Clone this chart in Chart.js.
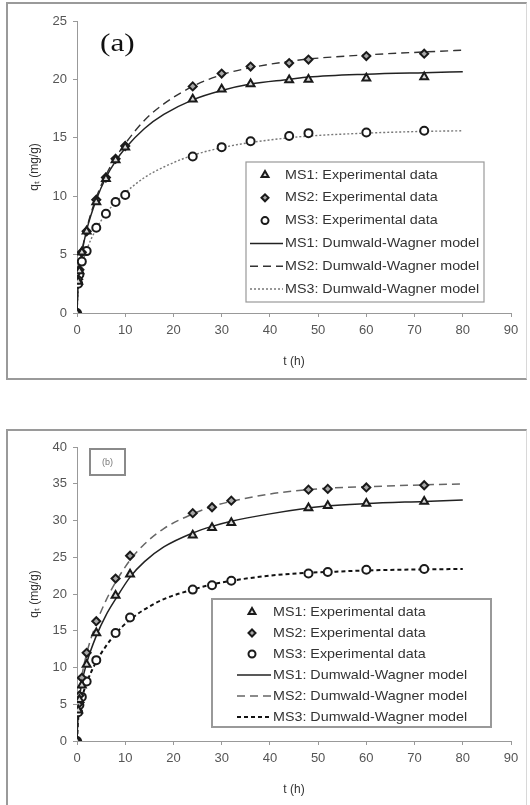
<!DOCTYPE html>
<html>
<head>
<meta charset="utf-8">
<script src="https://cdn.jsdelivr.net/npm/chart.js"></script>
<style>
  body { margin: 0; background: #fff; width: 530px; height: 805px; position: relative; overflow: hidden; font-family: Arial, "Liberation Sans", sans-serif; }
  .frame { position: absolute; box-sizing: border-box; border: 2px solid #9a9a9a; border-right: 1px solid #d8d8d8; }
  canvas { position: absolute; }
  .tagA { position: absolute; left: 100px; top: 30px; font-family: "Liberation Serif", "Times New Roman", serif; font-size: 25px; line-height: 25px; color: #111; transform: scaleX(1.25); transform-origin: left top; }
  .tagB { position: absolute; left: 89px; top: 448px; width: 37px; height: 28px; box-sizing: border-box; border: 2px solid #8a8a8a; font-size: 9px; color: #777; text-align: center; line-height: 24px; }
</style>
</head>
<body>
<div class="frame" style="left:6px; top:2px; width:521px; height:378px;"></div>
<div class="frame" style="left:6px; top:429px; width:521px; height:390px;"></div>
<canvas id="chartA" width="520" height="377" style="left:7px; top:3px;"></canvas>
<canvas id="chartB" width="520" height="375" style="left:7px; top:430px;"></canvas>
<div class="tagA">(a)</div>
<div class="tagB">(b)</div>
<script>
// ---- panel (a) ----
const timeA = [0, 0.25, 0.5, 1, 2, 4, 6, 8, 10, 24, 30, 36, 44, 48, 60, 72];
const ms1ExpA = [0, 2.7, 3.6, 5.2, 7.0, 9.5, 11.5, 13.1, 14.2, 18.3, 19.15, 19.6, 19.95, 20.0, 20.1, 20.2];
const ms2ExpA = [0, 2.9, 3.7, 5.2, 7.0, 9.7, 11.6, 13.2, 14.3, 19.4, 20.5, 21.1, 21.4, 21.7, 22.0, 22.2];
const ms3ExpA = [0, 2.5, 3.3, 4.4, 5.3, 7.3, 8.5, 9.5, 10.1, 13.4, 14.2, 14.7, 15.15, 15.4, 15.45, 15.6];

const modelTimeA = [0, 0.25, 0.5, 1, 2, 4, 6, 8, 10, 14, 18, 24, 30, 36, 44, 48, 60, 72, 80];
const ms1ModelA = [0, 2.6, 3.6, 5.1, 7.1, 9.7, 11.6, 13.0, 14.1, 15.8, 17.0, 18.25, 19.05, 19.6, 20.0, 20.2, 20.45, 20.58, 20.65];
const ms2ModelA = [0, 2.7, 3.7, 5.2, 7.2, 9.9, 11.8, 13.3, 14.5, 16.5, 17.9, 19.4, 20.4, 21.0, 21.55, 21.75, 22.1, 22.35, 22.5];
const ms3ModelA = [0, 2.1, 2.9, 4.0, 5.4, 7.2, 8.5, 9.5, 10.3, 11.6, 12.5, 13.5, 14.15, 14.6, 15.0, 15.15, 15.4, 15.55, 15.6];

// ---- panel (b) ----
const timeB = [0, 0.25, 0.5, 1, 2, 4, 8, 11, 24, 28, 32, 48, 52, 60, 72];
const ms1ExpB = [0, 4.2, 5.6, 7.6, 10.4, 14.7, 19.8, 22.7, 28.0, 29.0, 29.7, 31.7, 32.0, 32.3, 32.6];
const ms2ExpB = [0, 5.0, 6.2, 8.6, 12.0, 16.3, 22.1, 25.2, 31.0, 31.8, 32.7, 34.2, 34.3, 34.5, 34.8];
const ms3ExpB = [0, 3.9, 4.9, 6.0, 8.1, 11.0, 14.7, 16.8, 20.6, 21.2, 21.8, 22.8, 23.0, 23.3, 23.4];

const modelTimeB = [0, 0.25, 0.5, 1, 2, 4, 6, 8, 11, 14, 18, 24, 28, 32, 40, 48, 52, 60, 72, 80];
const ms1ModelB = [0, 4.3, 5.8, 7.9, 10.6, 14.3, 17.1, 19.3, 22.3, 24.4, 26.4, 28.3, 29.2, 29.9, 30.9, 31.7, 32.0, 32.3, 32.6, 32.8];
const ms2ModelB = [0, 4.7, 6.4, 8.8, 11.9, 16.0, 19.1, 21.6, 24.6, 26.8, 28.9, 30.9, 31.9, 32.6, 33.6, 34.2, 34.4, 34.6, 34.85, 34.97];
const ms3ModelB = [0, 3.0, 4.2, 5.8, 7.9, 10.8, 12.9, 14.6, 16.5, 17.9, 19.3, 20.6, 21.3, 21.8, 22.5, 22.9, 23.0, 23.2, 23.35, 23.4];

const xTicks = [0, 10, 20, 30, 40, 50, 60, 70, 80, 90];
const legendLabels = [
  'MS1: Experimental data', 'MS2: Experimental data', 'MS3: Experimental data',
  'MS1: Dumwald-Wagner model', 'MS2: Dumwald-Wagner model', 'MS3: Dumwald-Wagner model'
];

function pairs(xs, ys) {
  return xs.map((x, i) => ({ x: x, y: ys[i] }));
}

function markerSet(label, xs, ys, style, radius, fill) {
  return {
    label: label,
    data: pairs(xs, ys),
    showLine: false,
    pointStyle: style,
    pointRadius: radius,
    pointBackgroundColor: fill,
    pointBorderColor: '#1a1a1a',
    pointBorderWidth: 2,
    borderColor: '#1a1a1a',
    backgroundColor: fill
  };
}

function modelSet(label, xs, ys, color, width, dash) {
  return {
    label: label,
    data: pairs(xs, ys),
    showLine: true,
    pointRadius: 0,
    borderColor: color,
    borderWidth: width,
    borderDash: dash,
    cubicInterpolationMode: 'monotone',
    fill: false
  };
}

// draws the boxed legend inside the plot, like the original figure
const legendBox = {
  id: 'legendBox',
  afterDatasetsDraw(chart, args, o) {
    const ctx = chart.ctx;
    ctx.save();
    ctx.fillStyle = '#fff';
    ctx.fillRect(o.x, o.y, o.w, o.h);
    ctx.strokeStyle = '#999';
    ctx.lineWidth = o.border;
    ctx.strokeRect(o.x, o.y, o.w, o.h);
    chart.data.datasets.forEach((ds, i) => {
      const cy = o.y + o.rowTop + i * o.rowGap;
      if (ds.showLine === false) {
        ctx.fillStyle = ds.pointBackgroundColor;
        ctx.strokeStyle = ds.pointBorderColor;
        ctx.lineWidth = ds.pointBorderWidth;
        ctx.setLineDash([]);
        Chart.helpers.drawPoint(ctx, { pointStyle: ds.pointStyle, radius: ds.pointRadius - 0.5, borderWidth: ds.pointBorderWidth, rotation: 0 }, o.x + o.symbolX, cy);
      } else {
        ctx.strokeStyle = ds.borderColor;
        ctx.lineWidth = ds.borderWidth;
        ctx.setLineDash(ds.borderDash || []);
        ctx.beginPath();
        ctx.moveTo(o.x + o.lineFrom, cy);
        ctx.lineTo(o.x + o.lineTo, cy);
        ctx.stroke();
      }
      ctx.setLineDash([]);
      ctx.fillStyle = '#333';
      ctx.font = '13px Arial, "Liberation Sans", sans-serif';
      ctx.textBaseline = 'middle';
      ctx.textAlign = 'left';
      ctx.save();
      ctx.translate(o.x + o.textX, cy);
      ctx.scale(1.1, 1);
      ctx.fillText(ds.label, 0, 0);
      ctx.restore();
    });
    ctx.restore();
  }
};

function makeChart(id, datasets, yMax, pad, xHeight, xTitlePad, legendOpts) {
  const tickFont = { family: 'Arial, "Liberation Sans", sans-serif', size: 13 };
  return new Chart(document.getElementById(id), {
    type: 'scatter',
    data: { datasets: datasets },
    plugins: [legendBox],
    options: {
      responsive: false,
      animation: false,
      layout: { padding: { left: 0, top: pad.top, right: pad.right, bottom: 0 } },
      plugins: {
        legend: { display: false },
        tooltip: { enabled: false },
        legendBox: legendOpts
      },
      scales: {
        x: {
          type: 'linear',
          min: 0,
          max: 90,
          afterBuildTicks: (scale) => { scale.ticks = xTicks.map(v => ({ value: v })); },
          afterFit: (scale) => { scale.height = xHeight; },
          ticks: { color: '#555', font: tickFont, padding: 6 },
          grid: { drawOnChartArea: false, drawTicks: true, tickLength: 4, color: '#999' },
          border: { display: true, color: '#999', width: 1 },
          title: { display: true, text: 't (h)', color: '#333', font: { family: tickFont.family, size: 12 }, padding: { top: 0, bottom: xTitlePad } }
        },
        y: {
          min: 0,
          max: yMax,
          afterFit: (scale) => { scale.width = 70; },
          ticks: { stepSize: 5, color: '#555', font: tickFont, padding: 6 },
          grid: { drawOnChartArea: false, drawTicks: true, tickLength: 4, color: '#999' },
          border: { display: true, color: '#999', width: 1 },
          title: { display: true, text: 'q\u209C (mg/g)', color: '#333', font: { family: tickFont.family, size: 12 }, padding: { top: 20, bottom: 0 } }
        }
      }
    }
  });
}

makeChart('chartA', [
  markerSet(legendLabels[0], timeA, ms1ExpA, 'triangle', 4.5, '#d9d9d9'),
  markerSet(legendLabels[1], timeA, ms2ExpA, 'rectRot', 4, '#a8a8a8'),
  markerSet(legendLabels[2], timeA, ms3ExpA, 'circle', 4, '#ffffff'),
  modelSet(legendLabels[3], modelTimeA, ms1ModelA, '#222', 1.5, []),
  modelSet(legendLabels[4], modelTimeA, ms2ModelA, '#333', 1.4, [8, 5]),
  modelSet(legendLabels[5], modelTimeA, ms3ModelA, '#777', 1.4, [2, 2])
], 25, { top: 18, right: 16 }, 67, 11, {
  x: 239, y: 159, w: 238, h: 140, border: 1.2,
  rowTop: 13, rowGap: 22.8, lineFrom: 4, lineTo: 37, symbolX: 19, textX: 39
});

makeChart('chartB', [
  markerSet(legendLabels[0], timeB, ms1ExpB, 'triangle', 4.5, '#d9d9d9'),
  markerSet(legendLabels[1], timeB, ms2ExpB, 'rectRot', 4, '#a8a8a8'),
  markerSet(legendLabels[2], timeB, ms3ExpB, 'circle', 4, '#ffffff'),
  modelSet(legendLabels[3], modelTimeB, ms1ModelB, '#222', 1.5, []),
  modelSet(legendLabels[4], modelTimeB, ms2ModelB, '#666', 1.5, [8, 5]),
  modelSet(legendLabels[5], modelTimeB, ms3ModelB, '#111', 2, [4, 3])
], 40, { top: 17, right: 16 }, 64, 8, {
  x: 205, y: 169, w: 279, h: 128, border: 2,
  rowTop: 13, rowGap: 21, lineFrom: 25, lineTo: 59, symbolX: 40, textX: 61
});
</script>
</body>
</html>
